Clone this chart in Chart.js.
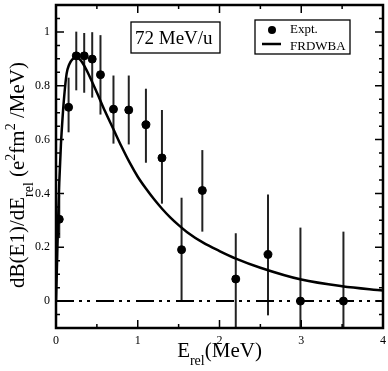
<!DOCTYPE html>
<html lang="en">
<head>
<meta charset="UTF-8" />
<title>dB(E1)/dE rel</title>
<script src="https://cdn.jsdelivr.net/npm/chart.js"></script>
<style>
  body { margin: 0; background: #fff; }
  canvas { display: block; }
</style>
</head>
<body>
<canvas id="chart" width="388" height="371"></canvas>
<script>
  // experiment (E_rel in MeV, dB(E1)/dE in e2fm2/MeV)
  const exptX = [0.04, 0.154, 0.248, 0.345, 0.443, 0.544, 0.703, 0.89, 1.10, 1.296, 1.536, 1.79, 2.199, 2.593, 2.99, 3.516];
  const exptY = [0.304, 0.72, 0.911, 0.911, 0.899, 0.841, 0.713, 0.71, 0.655, 0.532, 0.191, 0.411, 0.082, 0.173, 0.0, 0.0];
  const errUp = [0.09, 0.11, 0.09, 0.085, 0.1, 0.147, 0.125, 0.128, 0.134, 0.178, 0.193, 0.15, 0.17, 0.223, 0.273, 0.258];
  const errDown = [0.07, 0.093, 0.128, 0.137, 0.143, 0.148, 0.128, 0.128, 0.141, 0.17, 0.19, 0.153, 0.19, 0.226, 0.273, 0.258];

  // FRDWBA curve
  const calcX = [0, 0.01, 0.02, 0.03, 0.04, 0.06, 0.08, 0.1, 0.13, 0.16, 0.2, 0.25, 0.3, 0.35, 0.4, 0.5, 0.6, 0.7, 0.8, 0.9, 1.0, 1.1, 1.2, 1.3, 1.4, 1.5, 1.6, 1.8, 2.0, 2.2, 2.5, 3.0, 3.5, 4.0];
  const calcY = [0, 0.11, 0.23, 0.345, 0.44, 0.58, 0.68, 0.76, 0.845, 0.878, 0.898, 0.905, 0.895, 0.872, 0.842, 0.775, 0.705, 0.64, 0.575, 0.515, 0.462, 0.418, 0.378, 0.342, 0.31, 0.282, 0.257, 0.217, 0.186, 0.158, 0.124, 0.08, 0.055, 0.039];

  const xMajor = [0, 1, 2, 3, 4];
  const xMinor = [0.5, 1.5, 2.5, 3.5];
  const yMajor = [0, 0.2, 0.4, 0.6, 0.8, 1];
  const yMinor = [-0.05, 0.05, 0.1, 0.15, 0.25, 0.3, 0.35, 0.45, 0.5, 0.55, 0.65, 0.7, 0.75, 0.85, 0.9, 0.95, 1.05];
  const yLabels = ['0', '0.2', '0.4', '0.6', '0.8', '1'];

  const serif = '"Liberation Serif", "DejaVu Serif", serif';

  // text made of pieces with sub/superscripts, drawn along baseline 0
  function richWidth(ctx, parts) {
    let w = 0;
    parts.forEach(p => { ctx.font = p.size + 'px ' + serif; w += ctx.measureText(p.t).width; });
    return w;
  }
  function drawRich(ctx, parts, x0) {
    let x = x0;
    parts.forEach(p => {
      ctx.font = p.size + 'px ' + serif;
      ctx.fillText(p.t, x, p.dy || 0);
      x += ctx.measureText(p.t).width;
    });
  }

  const yTitle = [
    { t: 'dB(E1)/dE', size: 21 },
    { t: 'rel', size: 14, dy: 9 },
    { t: ' (e', size: 21 },
    { t: '2', size: 14, dy: -9 },
    { t: 'fm', size: 21 },
    { t: '2', size: 14, dy: -9 },
    { t: ' /MeV)', size: 21 }
  ];
  const xTitle = [
    { t: 'E', size: 21 },
    { t: 'rel', size: 14, dy: 8 },
    { t: '(MeV)', size: 21 }
  ];

  const noPad = s => { s.paddingTop = 0; s.paddingBottom = 0; s.paddingLeft = 0; s.paddingRight = 0; };

  const extras = {
    id: 'extras',
    beforeDatasetsDraw(chart) {
      const { ctx, chartArea: a, scales: { x, y } } = chart;
      ctx.save();
      ctx.beginPath();
      ctx.rect(a.left, a.top, a.right - a.left, a.bottom - a.top);
      ctx.clip();
      ctx.strokeStyle = '#222';
      ctx.lineWidth = 2;
      exptX.forEach((v, i) => {
        const px = x.getPixelForValue(v);
        ctx.beginPath();
        ctx.moveTo(px, y.getPixelForValue(exptY[i] + errUp[i]));
        ctx.lineTo(px, y.getPixelForValue(exptY[i] - errDown[i]));
        ctx.stroke();
      });
      ctx.restore();
    },
    afterDraw(chart) {
      const { ctx, chartArea: a, scales: { x, y } } = chart;
      ctx.save();
      ctx.strokeStyle = '#000';
      ctx.fillStyle = '#000';

      // ticks pointing inward on all four sides
      ctx.lineWidth = 1.5;
      const tickX = (vals, len) => {
        vals.forEach(v => {
          const px = x.getPixelForValue(v);
          ctx.beginPath();
          ctx.moveTo(px, a.bottom); ctx.lineTo(px, a.bottom - len);
          ctx.moveTo(px, a.top); ctx.lineTo(px, a.top + len);
          ctx.stroke();
        });
      };
      const tickY = (vals, len) => {
        vals.forEach(v => {
          const py = y.getPixelForValue(v);
          ctx.beginPath();
          ctx.moveTo(a.left, py); ctx.lineTo(a.left + len, py);
          ctx.moveTo(a.right, py); ctx.lineTo(a.right - len, py);
          ctx.stroke();
        });
      };
      tickX(xMajor, 8); tickX(xMinor, 4);
      tickY(yMajor, 8); tickY(yMinor, 4);

      ctx.lineWidth = 2.5;
      ctx.strokeRect(a.left, a.top, a.right - a.left, a.bottom - a.top);

      // energy label box
      ctx.lineWidth = 1.3;
      ctx.strokeRect(131, 22, 89, 31);
      ctx.font = '19px ' + serif;
      ctx.textBaseline = 'alphabetic';
      ctx.fillText('72 MeV/u', 135, 44);

      // legend
      ctx.strokeRect(255, 20, 95, 34);
      ctx.beginPath();
      ctx.arc(272, 30, 4, 0, Math.PI * 2);
      ctx.fill();
      ctx.lineWidth = 2.5;
      ctx.beginPath();
      ctx.moveTo(262, 44); ctx.lineTo(281, 44);
      ctx.stroke();
      ctx.font = '13px ' + serif;
      ctx.fillText(chart.data.datasets[1].label, 290, 33);
      ctx.fillText(chart.data.datasets[0].label, 290, 49.5);

      // axis titles
      const cx = (a.left + a.right) / 2;
      const wx = richWidth(ctx, xTitle);
      ctx.save();
      ctx.translate(0, 357);
      drawRich(ctx, xTitle, cx - wx / 2);
      ctx.restore();

      const wy = richWidth(ctx, yTitle);
      ctx.save();
      ctx.translate(24, 175);
      ctx.rotate(-Math.PI / 2);
      drawRich(ctx, yTitle, -wy / 2);
      ctx.restore();

      ctx.restore();
    }
  };

  new Chart(document.getElementById('chart'), {
    type: 'scatter',
    data: {
      datasets: [
        {
          label: 'FRDWBA',
          type: 'line',
          data: calcX.map((v, i) => ({ x: v, y: calcY[i] })),
          borderColor: '#000',
          borderWidth: 2.5,
          pointRadius: 0,
          cubicInterpolationMode: 'monotone',
          order: 1
        },
        {
          label: 'Expt.',
          data: exptX.map((v, i) => ({ x: v, y: exptY[i] })),
          backgroundColor: '#000',
          borderColor: '#000',
          pointRadius: 4,
          order: 2
        },
        {
          label: 'zero',
          type: 'line',
          data: [{ x: 0, y: 0 }, { x: 4, y: 0 }],
          borderColor: '#000',
          borderWidth: 2,
          borderDash: [18, 5, 3, 5, 3, 6],
          pointRadius: 0,
          order: 3
        }
      ]
    },
    options: {
      responsive: false,
      animation: false,
      devicePixelRatio: 1,
      layout: { padding: { top: 3, right: 4, left: 0, bottom: 0 } },
      plugins: { legend: { display: false }, tooltip: { enabled: false } },
      scales: {
        x: {
          type: 'linear',
          min: 0, max: 4,
          afterFit: s => { s.height = 43; noPad(s); },
          afterBuildTicks: s => { s.ticks = xMajor.map(v => ({ value: v })); },
          grid: { display: false, drawTicks: false },
          border: { display: false },
          ticks: { padding: 6, color: '#000', font: { family: serif, size: 12 } }
        },
        y: {
          type: 'linear',
          min: -0.1, max: 1.1,
          afterFit: s => { s.width = 56; noPad(s); },
          afterBuildTicks: s => { s.ticks = yMajor.map(v => ({ value: v })); },
          grid: { display: false, drawTicks: false },
          border: { display: false },
          ticks: {
            padding: 6, color: '#000', font: { family: serif, size: 12 },
            callback: (v, i) => yLabels[i]
          }
        }
      }
    },
    plugins: [extras]
  });
</script>
</body>
</html>
